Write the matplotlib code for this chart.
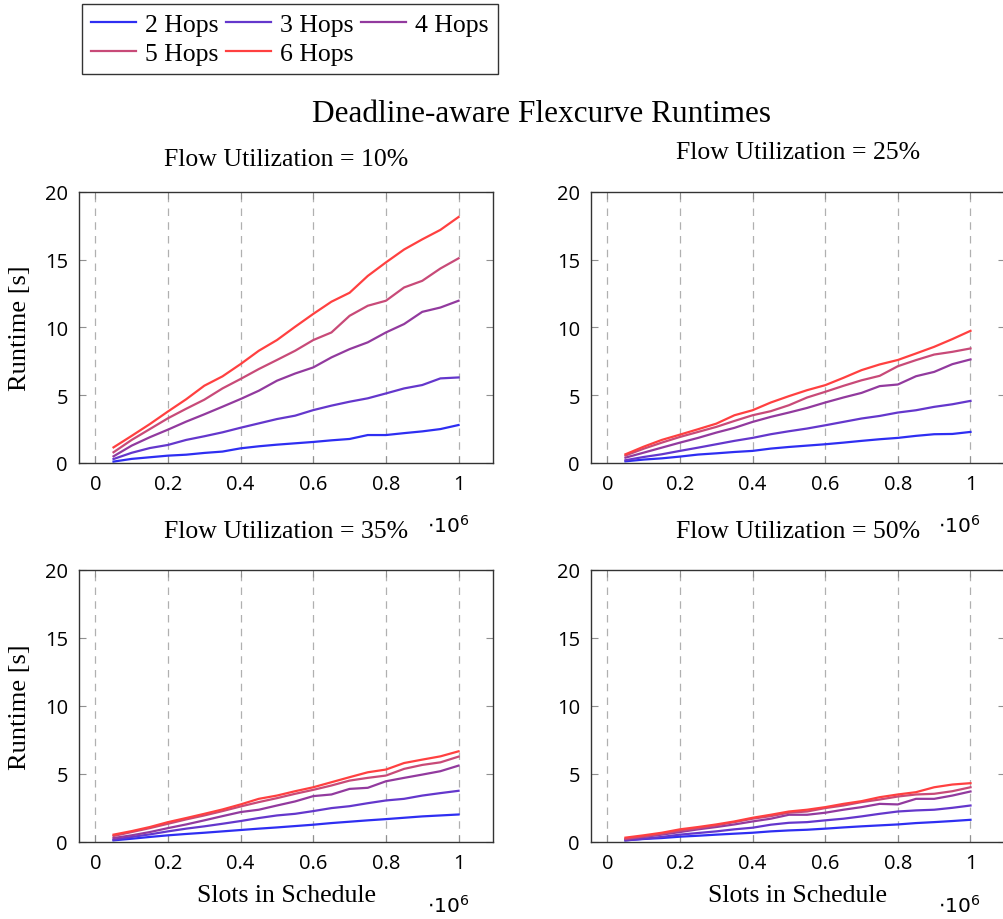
"""
    Deadline-aware Flexcurve runtimes, four utilization levels
"""
import matplotlib
matplotlib.use('Agg')
import matplotlib.pyplot as plt
import matplotlib.transforms as mtransforms

# slots in schedule (x 10^6)
slots = [0.05, 0.10, 0.15, 0.20, 0.25, 0.30, 0.35, 0.40, 0.45, 0.50,
         0.55, 0.60, 0.65, 0.70, 0.75, 0.80, 0.85, 0.90, 0.95, 1.00]

hops_labels = ['2 Hops', '3 Hops', '4 Hops', '5 Hops', '6 Hops']
hops_colors = ['#2e2ef2', '#6437cc', '#923a9e', '#c84a78', '#ff4040']
utilizations = ['10%', '25%', '35%', '50%']

# runtimes [s], one list per hop count
util_10 = [
    [0.10, 0.30, 0.42, 0.54, 0.61, 0.74, 0.84, 1.08, 1.23, 1.35, 1.45, 1.55, 1.67, 1.77, 2.06, 2.06, 2.20, 2.33, 2.50, 2.80],
    [0.29, 0.75, 1.10, 1.33, 1.70, 1.97, 2.26, 2.60, 2.92, 3.24, 3.49, 3.90, 4.23, 4.52, 4.77, 5.13, 5.50, 5.75, 6.24, 6.31],
    [0.49, 1.28, 1.90, 2.46, 3.05, 3.59, 4.15, 4.72, 5.33, 6.07, 6.60, 7.05, 7.79, 8.40, 8.90, 9.63, 10.25, 11.15, 11.47, 11.97],
    [0.79, 1.70, 2.50, 3.30, 4.00, 4.67, 5.50, 6.20, 6.93, 7.60, 8.28, 9.07, 9.63, 10.86, 11.60, 11.97, 12.95, 13.44, 14.35, 15.10],
    [1.15, 2.00, 2.87, 3.80, 4.70, 5.70, 6.39, 7.30, 8.28, 9.07, 10.05, 11.00, 11.90, 12.56, 13.80, 14.80, 15.75, 16.50, 17.20, 18.15],
]
util_25 = [
    [0.12, 0.25, 0.34, 0.47, 0.62, 0.71, 0.81, 0.89, 1.06, 1.18, 1.28, 1.38, 1.50, 1.63, 1.75, 1.85, 2.00, 2.12, 2.14, 2.29],
    [0.20, 0.44, 0.64, 0.89, 1.13, 1.38, 1.63, 1.85, 2.12, 2.34, 2.54, 2.78, 3.03, 3.28, 3.47, 3.72, 3.89, 4.14, 4.33, 4.58],
    [0.39, 0.76, 1.13, 1.50, 1.85, 2.24, 2.59, 3.03, 3.40, 3.72, 4.06, 4.46, 4.83, 5.17, 5.67, 5.79, 6.40, 6.72, 7.29, 7.64],
    [0.55, 1.05, 1.50, 1.92, 2.29, 2.66, 3.10, 3.52, 3.82, 4.26, 4.83, 5.25, 5.69, 6.10, 6.43, 7.14, 7.59, 8.00, 8.20, 8.45],
    [0.64, 1.20, 1.70, 2.09, 2.49, 2.90, 3.52, 3.89, 4.46, 4.93, 5.37, 5.74, 6.28, 6.85, 7.27, 7.60, 8.08, 8.57, 9.14, 9.75],
]
util_35 = [
    [0.12, 0.24, 0.37, 0.49, 0.59, 0.68, 0.78, 0.88, 0.98, 1.07, 1.17, 1.27, 1.39, 1.49, 1.59, 1.68, 1.78, 1.88, 1.95, 2.02],
    [0.17, 0.37, 0.56, 0.78, 0.98, 1.15, 1.34, 1.54, 1.76, 1.95, 2.07, 2.27, 2.49, 2.63, 2.85, 3.05, 3.17, 3.41, 3.59, 3.76],
    [0.29, 0.49, 0.73, 1.02, 1.29, 1.59, 1.90, 2.20, 2.37, 2.68, 2.98, 3.37, 3.49, 3.90, 3.98, 4.46, 4.71, 4.95, 5.20, 5.61],
    [0.44, 0.73, 1.02, 1.34, 1.66, 1.95, 2.27, 2.61, 2.93, 3.22, 3.54, 3.83, 4.15, 4.51, 4.71, 4.88, 5.37, 5.66, 5.85, 6.27],
    [0.54, 0.80, 1.10, 1.46, 1.76, 2.07, 2.39, 2.76, 3.17, 3.41, 3.73, 4.02, 4.39, 4.76, 5.12, 5.32, 5.80, 6.05, 6.29, 6.66],
]
util_50 = [
    [0.12, 0.22, 0.29, 0.39, 0.46, 0.54, 0.61, 0.68, 0.78, 0.85, 0.90, 0.98, 1.07, 1.15, 1.22, 1.29, 1.39, 1.46, 1.54, 1.63],
    [0.12, 0.24, 0.37, 0.54, 0.66, 0.78, 0.93, 1.05, 1.27, 1.41, 1.46, 1.59, 1.71, 1.88, 2.07, 2.24, 2.32, 2.37, 2.51, 2.68],
    [0.20, 0.37, 0.54, 0.73, 0.93, 1.10, 1.29, 1.51, 1.71, 2.00, 2.00, 2.15, 2.37, 2.56, 2.80, 2.76, 3.17, 3.17, 3.41, 3.71],
    [0.24, 0.41, 0.61, 0.83, 1.02, 1.22, 1.46, 1.71, 1.90, 2.15, 2.24, 2.49, 2.68, 2.93, 3.12, 3.34, 3.49, 3.54, 3.73, 4.02],
    [0.32, 0.49, 0.68, 0.93, 1.10, 1.29, 1.51, 1.78, 2.00, 2.24, 2.37, 2.56, 2.80, 3.00, 3.29, 3.49, 3.66, 4.02, 4.22, 4.32],
]
runtimes = [util_10, util_25, util_35, util_50]

serif = 'Liberation Serif'
sans = 'Open Sans'

W, H = 1004, 920
fig = plt.figure(figsize=(W / 100, H / 100), dpi=100)

# axes boxes in figure fractions (left, bottom, width, height)
boxes = [
    [0.0787, 0.4957, 0.4124, 0.2946],
    [0.5886, 0.4957, 0.4124, 0.2946],
    [0.0787, 0.0837, 0.4124, 0.2960],
    [0.5886, 0.0837, 0.4124, 0.2960],
]
# vertical pixel position of each subplot title (from the top)
title_y = [160, 153, 532, 532]

handles = []
for i, box in enumerate(boxes):
    ax = fig.add_axes(box)
    for j in range(len(hops_labels)):
        line, = ax.plot(slots, runtimes[i][j], color=hops_colors[j], lw=1.6,
                        label=hops_labels[j])
        if i == 0:
            handles.append(line)
    ax.set_xlim(-0.045, 1.095)
    ax.set_ylim(0, 20)
    ax.set_xticks([0, 0.2, 0.4, 0.6, 0.8, 1])
    ax.set_xticklabels(['0', '0.2', '0.4', '0.6', '0.8', '1'])
    ax.set_yticks([0, 5, 10, 15, 20])
    ax.xaxis.grid(True, color='#b0b0b0', linestyle=(0, (6, 5)), lw=0.9)
    ax.tick_params(direction='in', top=True, right=True, length=5,
                   color='#909090', labelsize=14.5, pad=8, labelcolor='black')
    for lab in ax.get_xticklabels() + ax.get_yticklabels():
        lab.set_fontfamily(sans)
    for sp in ax.spines.values():
        sp.set_color('#333333')
        sp.set_linewidth(1.0)

    fig.text(box[0] + box[2] / 2, 1 - title_y[i] / H,
             'Flow Utilization = ' + utilizations[i], fontfamily=serif,
             fontsize=18.5, ha='center', va='center')
    if i % 2 == 0:
        ax.set_ylabel('Runtime [s]', fontfamily=serif, fontsize=19, labelpad=10)
    if i >= 2:
        ax.set_xlabel('Slots in Schedule', fontfamily=serif, fontsize=18.5,
                      labelpad=8)
    # the x 10^6 multiplier under the right end of the axis
    trans = mtransforms.blended_transform_factory(ax.transData, ax.transAxes)
    ax.text(0.97, -0.23, r'$\cdot10^6$', transform=trans, fontsize=14.5,
            ha='center', va='center')

fig.text(0.539, 1 - 115 / H, 'Deadline-aware Flexcurve Runtimes',
         fontfamily=serif, fontsize=22.5, ha='center', va='center')

# reorder so entries fill row by row
order = [0, 3, 1, 4, 2]
leg = fig.legend([handles[k] for k in order], [hops_labels[k] for k in order],
                 ncol=3, loc='upper left', bbox_to_anchor=(82 / W, 1 - 5 / H),
                 borderaxespad=0, frameon=True, fancybox=False,
                 edgecolor='black', prop={'family': serif, 'size': 18.5},
                 handlelength=1.75, columnspacing=0.3, handletextpad=0.35,
                 borderpad=0.35, labelspacing=0.25)
leg.get_frame().set_linewidth(1.0)

fig.savefig('out.png', dpi=100)
